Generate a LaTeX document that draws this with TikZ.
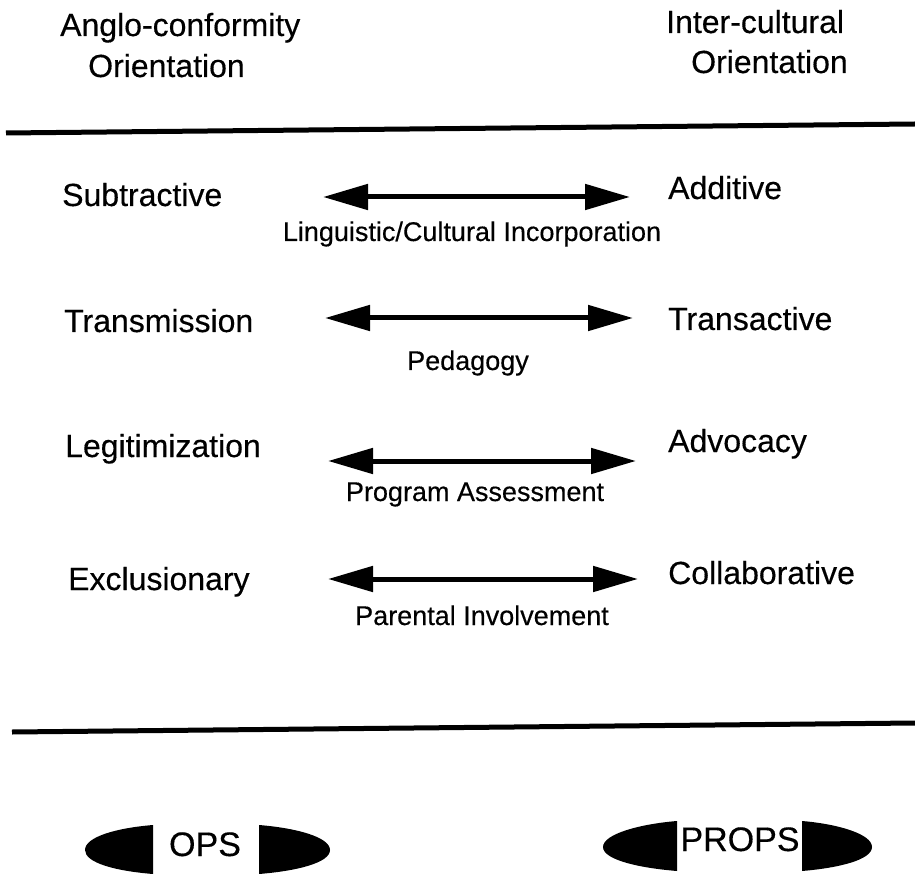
\documentclass[tikz,border=0pt]{standalone}
\usepackage{fontspec}
\setmainfont[FakeBold=0.35]{Liberation Sans}
\usetikzlibrary{arrows.meta}
\begin{document}
\begin{tikzpicture}[x=1pt,y=-1pt,
  big/.style={inner sep=0pt,font=\fontsize{32}{36}\selectfont,anchor=base west},
  small/.style={inner sep=0pt,font=\fontsize{27}{30}\selectfont,anchor=base},
  tag/.style={inner sep=0pt,font=\fontsize{34}{36}\selectfont,anchor=base},
  rule/.style={line width=5pt},
  dbl/.style={line width=5pt,{Triangle[length=45pt,width=25pt]}-{Triangle[length=45pt,width=25pt]}},
  blob/.style={fill=black,draw=none}]
\useasboundingbox (0,0) rectangle (915,874);
% headers
\node[big] (h1) at (60,36) {Anglo-conformity};
\node[big] (h2) at (88,77) {Orientation};
\node[big] (h3) at (666,33) {Inter-cultural};
\node[big] (h4) at (691,73) {Orientation};
% rules
\coordinate (t1) at (6,133); \coordinate (t2) at (915,124);
\draw[rule] (t1) -- (t2);
\coordinate (b1) at (12,732); \coordinate (b2) at (915,723);
\draw[rule] (b1) -- (b2);
% rows
\node[big] (l1) at (62,206) {Subtractive};
\node[big] (r1) at (668,199) {Additive};
\coordinate (a1l) at (323,197); \coordinate (a1r) at (630,197);
\draw[dbl] (a1l) -- (a1r);
\node[small] (m1) at (472,241) {Linguistic/Cultural Incorporation};

\node[big] (l2) at (64,332) {Transmission};
\node[big] (r2) at (668,330) {Transactive};
\coordinate (a2l) at (325,318); \coordinate (a2r) at (633,318);
\draw[dbl] (a2l) -- (a2r);
\node[small] (m2) at (468,370) {Pedagogy};

\node[big] (l3) at (65,457) {Legitimization};
\node[big] (r3) at (668,452) {Advocacy};
\coordinate (a3l) at (328,461); \coordinate (a3r) at (636,461);
\draw[dbl] (a3l) -- (a3r);
\node[small] (m3) at (475,501) {Program Assessment};

\node[big] (l4) at (68,590) {Exclusionary};
\node[big] (r4) at (668,584) {Collaborative};
\coordinate (a4l) at (328,579); \coordinate (a4r) at (638,579);
\draw[dbl] (a4l) -- (a4r);
\node[small] (m4) at (482,625) {Parental Involvement};

% OPS
\fill[blob] (153,825) .. controls (116,828) and (85,837) .. (85,850) .. controls (85,863) and (116,871) .. (153,874) -- cycle;
\node[tag] (ops) at (205,856) {OPS};
\fill[blob] (259,825) .. controls (296,828) and (330,837) .. (330,850) .. controls (330,863) and (296,871) .. (259,874) -- cycle;
% PROPS
\fill[blob] (677,821) .. controls (640,824) and (603,834) .. (603,847) .. controls (603,860) and (640,868) .. (677,871) -- cycle;
\node[tag] (props) at (740,851) {PROPS};
\fill[blob] (802,821) .. controls (838,824) and (872,834) .. (872,847) .. controls (872,860) and (838,868) .. (802,871) -- cycle;
\end{tikzpicture}
\end{document}
